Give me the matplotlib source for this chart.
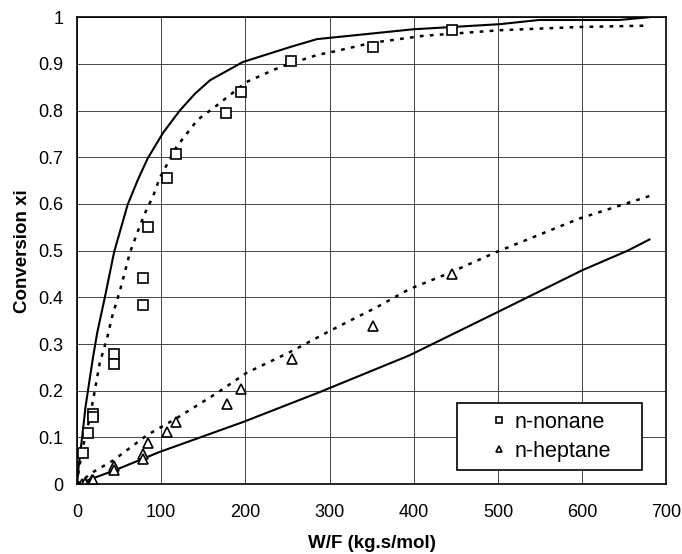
import matplotlib
matplotlib.use("Agg")
import matplotlib.pyplot as plt
from matplotlib.patches import Rectangle

plt.rcParams['font.family'] = ['Liberation Sans', 'DejaVu Sans']

# measured points
nonane_x = [7, 13, 19, 19, 44, 44, 78, 78, 84, 107, 118, 177, 195, 254, 351, 445]
nonane_y = [0.066, 0.109, 0.15, 0.144, 0.278, 0.257, 0.441, 0.383, 0.55, 0.655, 0.707, 0.794, 0.839, 0.906, 0.936, 0.972]

heptane_x = [6, 9.5, 18, 19, 44, 44, 78, 78, 84, 107, 118, 178, 195, 255, 351, 445]
heptane_y = [0.0, 0.003, 0.01, 0.008, 0.04, 0.03, 0.064, 0.053, 0.088, 0.111, 0.133, 0.171, 0.203, 0.268, 0.338, 0.45]

# model curves (solid and dotted)
non_solid_x = [0, 2, 4, 7, 10, 15, 19, 24, 33, 44, 60, 72, 84, 102, 122, 140, 158, 197, 253, 285, 399, 502, 549,
               644, 680]
non_solid_y = [0, 0.04, 0.07, 0.116, 0.165, 0.225, 0.272, 0.325, 0.40, 0.497, 0.598, 0.651, 0.698, 0.752, 0.80,
               0.836, 0.865, 0.904, 0.936, 0.953, 0.974, 0.985, 0.994, 0.994, 1.0]

non_dot_x = [0, 2, 6, 13, 19, 23, 27, 36, 41.5, 51, 63, 75, 83, 90, 98, 118, 143, 166, 201, 241, 285, 304, 350,
             411, 502, 597, 680]
non_dot_y = [0, 0.03, 0.073, 0.125, 0.18, 0.22, 0.26, 0.315, 0.358, 0.415, 0.497, 0.555, 0.59, 0.615, 0.655, 0.722,
             0.78, 0.811, 0.861, 0.893, 0.919, 0.926, 0.945, 0.96, 0.972, 0.979, 0.982]

hep_dot_x = [0, 19, 43, 83, 118, 166, 201, 253, 300, 356, 395, 442, 498, 597, 680]
hep_dot_y = [0, 0.026, 0.051, 0.105, 0.141, 0.195, 0.238, 0.283, 0.328, 0.379, 0.418, 0.452, 0.497, 0.569, 0.617]

hep_solid_x = [0, 45, 98, 197, 288, 395, 499, 600, 654, 680]
hep_solid_y = [0, 0.03, 0.069, 0.133, 0.197, 0.276, 0.368, 0.458, 0.5, 0.524]

fig = plt.figure(figsize=(6.82, 5.54), dpi=100)
ax = fig.add_axes([0.113, 0.126, 0.864, 0.843])

dots = (0, (1.5, 2.5))
ax.plot(non_solid_x, non_solid_y, color='black', lw=1.5)
ax.plot(non_dot_x, non_dot_y, color='black', lw=1.8, linestyle=dots)
ax.plot(hep_solid_x, hep_solid_y, color='black', lw=1.5)
ax.plot(hep_dot_x, hep_dot_y, color='black', lw=1.8, linestyle=dots)

ax.plot(nonane_x, nonane_y, linestyle='none', marker='s', markersize=7,
        markerfacecolor='white', markeredgecolor='black', markeredgewidth=1.2, label='n-nonane')
ax.plot(heptane_x, heptane_y, linestyle='none', marker='^', markersize=7,
        markerfacecolor='white', markeredgecolor='black', markeredgewidth=1.2, label='n-heptane')

ax.set_xlim(0, 700)
ax.set_ylim(0, 1)
ax.set_xticks(range(0, 701, 100))
ax.set_yticks([i / 10 for i in range(11)])
ax.set_yticklabels(['0', '0.1', '0.2', '0.3', '0.4', '0.5', '0.6', '0.7', '0.8', '0.9', '1'])
ax.tick_params(axis='both', labelsize=13, length=0)
ax.tick_params(axis='y', pad=10)
ax.tick_params(axis='x', pad=14)
ax.grid(True, color='#444444', lw=0.7)
ax.set_axisbelow(True)
for s in ax.spines.values():
    s.set_linewidth(1.2)

ax.set_xlabel('W/F (kg.s/mol)', fontsize=13.5, fontweight='bold', labelpad=10)
ax.set_ylabel('Conversion xi', fontsize=13.5, fontweight='bold', labelpad=5)

# legend box drawn separately so it can be wider than its content
ax.add_patch(Rectangle((0.645, 0.030), 0.314, 0.143, transform=ax.transAxes,
                       facecolor='white', edgecolor='black', lw=1.2, zorder=5))
leg = ax.legend(loc='center', bbox_to_anchor=(0.802, 0.1015), fontsize=15.5, markerscale=0.7,
                handlelength=1.0, handletextpad=0.2, frameon=False, borderpad=0.2, labelspacing=0.35)
leg.set_zorder(6)

fig.savefig('out.png', dpi=100)
